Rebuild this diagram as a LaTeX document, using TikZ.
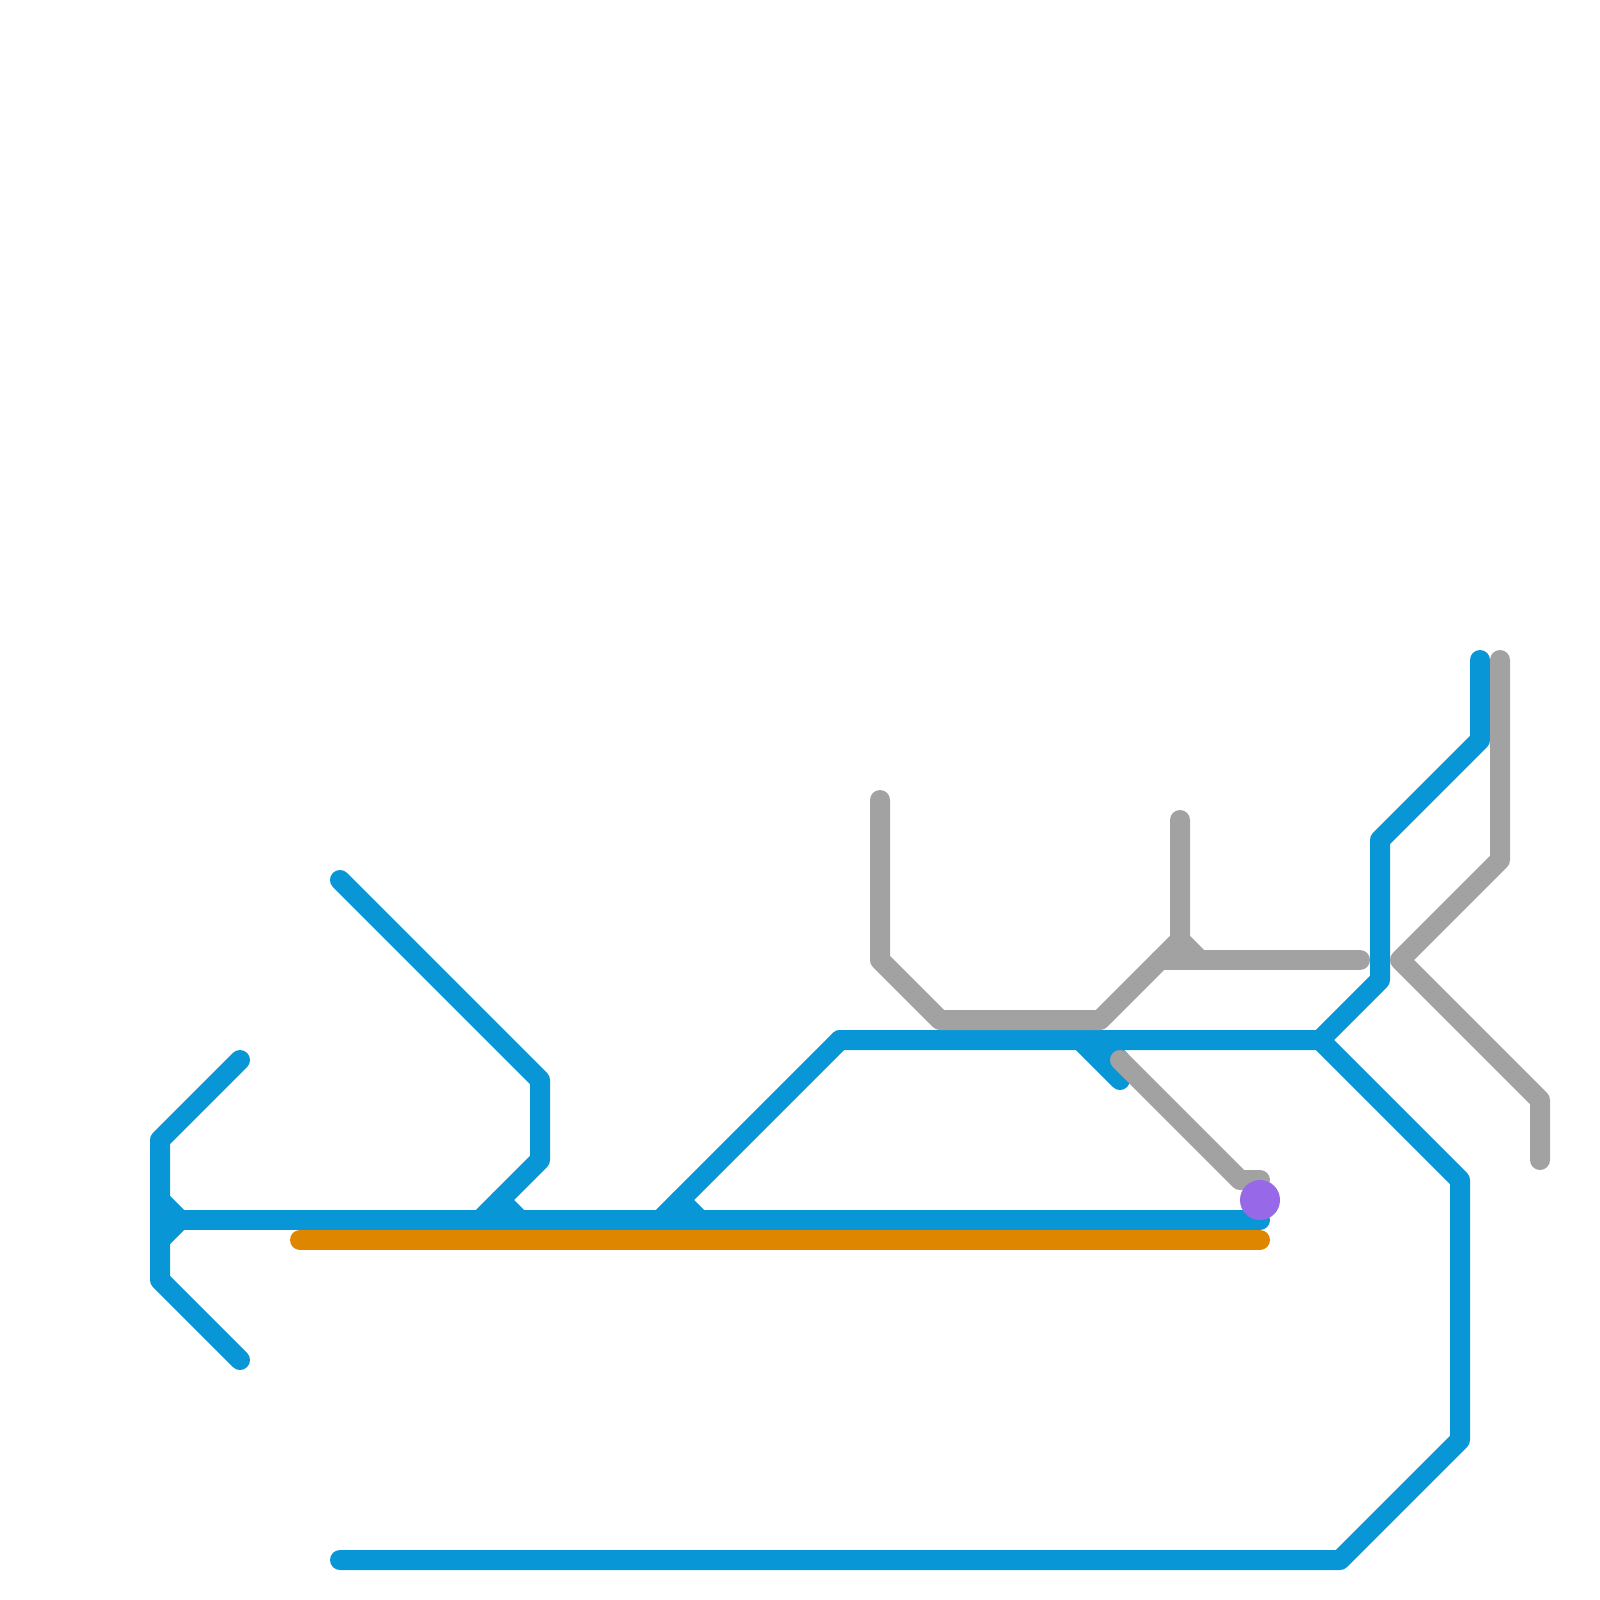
\documentclass[tikz,border=0pt]{standalone}
\usepackage{xcolor}
\usetikzlibrary{positioning}
\definecolor{lineblue}{HTML}{0896D7}
\definecolor{linegrey}{HTML}{A2A2A2}
\definecolor{lineorange}{HTML}{DF8600}
\definecolor{stationpurple}{HTML}{9768E8}
\tikzset{
  track/.style ={line width=0.25cm, line cap=round, line join=round},
  bluetrack/.style  ={track, draw=lineblue},
  greytrack/.style  ={track, draw=linegrey},
  orangetrack/.style={track, draw=lineorange},
  station/.style={circle, fill=stationpurple, minimum size=0.5cm, inner sep=0pt},
}
% grid points of the map, one unit is one map square
\def\bluepoints{%
  bA/12/53, bB/8/57, bC/8/64, bD/12/68,
  bE/8/61, bF/63/61, bG/8/60, bH/9/61, bI/8/62,
  bJ/17/44, bK/27/54, bL/27/58, bM/24/61, bN/25/60, bO/26/61,
  bP/42/52, bQ/33/61, bR/34/60, bS/35/61,
  bT/66/52, bU/69/49, bV/69/42, bW/74/37, bX/74/33,
  bY/73/59, bZ/73/72, cA/67/78, cB/17/78, cC/54/52, cD/56/54,
  cE/55/52, cF/56/53}
\def\greypoints{%
  gA/44/40, gB/44/48, gC/47/51, gD/55/51, gE/59/47, gF/59/41, gG/60/48,
  gH/58/48, gI/68/48, gJ/56/53, gK/62/59, gL/63/59,
  gM/75/33, gN/75/43, gO/70/48, gP/77/55, gQ/77/58}
\begin{document}
\begin{tikzpicture}[x=0.25cm,y=-0.25cm]
\useasboundingbox (0,0) rectangle (80,80);
\foreach \n/\x/\y in \bluepoints {\coordinate (\n) at (\x,\y);}
\foreach \n/\x/\y in \greypoints {\coordinate (\n) at (\x,\y);}
\coordinate (oA) at (15,62);
\coordinate (oB) at (63,62);
% blue line
\draw[bluetrack] (bA) -- (bB) -- (bC) -- (bD);
\draw[bluetrack] (bE) -- (bF);
\draw[bluetrack] (bG) -- (bH) -- (bI);
\draw[bluetrack] (bJ) -- (bK) -- (bL) -- (bM);
\draw[bluetrack] (bN) -- (bO);
\draw[bluetrack] (bP) -- (bQ);
\draw[bluetrack] (bR) -- (bS);
\draw[bluetrack] (bP) -- (bT) -- (bU) -- (bV) -- (bW) -- (bX);
\draw[bluetrack] (bT) -- (bY) -- (bZ) -- (cA) -- (cB);
\draw[bluetrack] (cC) -- (cD);
\draw[bluetrack] (cE) -- (cF);
% grey line
\draw[greytrack] (gA) -- (gB) -- (gC) -- (gD) -- (gE) -- (gF);
\draw[greytrack] (gE) -- (gG);
\draw[greytrack] (gH) -- (gI);
\draw[greytrack] (gJ) -- (gK) -- (gL);
\draw[greytrack] (gM) -- (gN) -- (gO) -- (gP) -- (gQ);
% orange line
\draw[orangetrack] (oA) -- (oB);
\node[station] (stop) at (63,60) {};
\end{tikzpicture}
\end{document}
